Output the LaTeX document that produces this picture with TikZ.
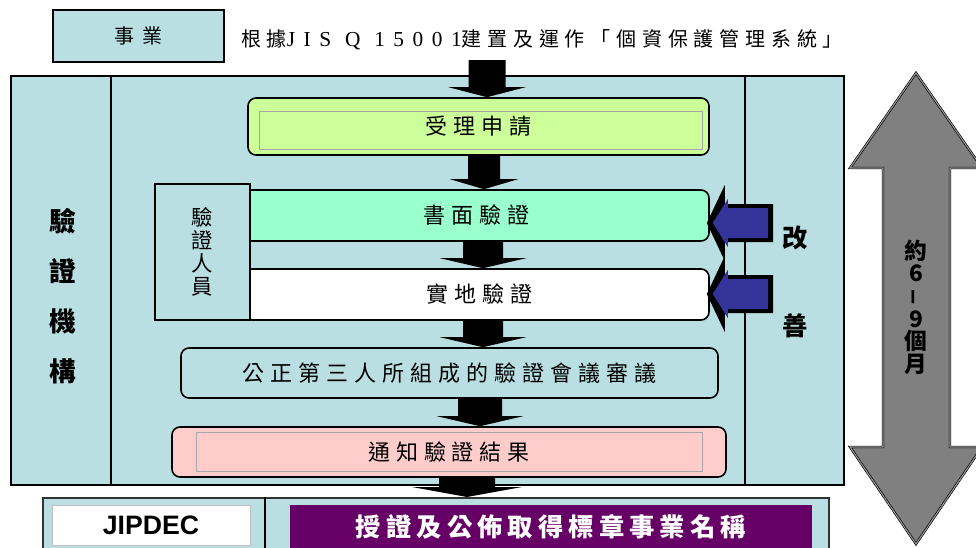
\documentclass[tikz,border=0pt]{standalone}
\usepackage{fontspec}
\usetikzlibrary{calc}
\newfontfamily\cjk{Noto Sans CJK TC}
\newfontfamily\latinspaced[LetterSpace=40]{Liberation Serif}
\newfontfamily\labelsans{Liberation Sans}

\definecolor{orgblue}{HTML}{B9DFE3}
\definecolor{reqgreen}{HTML}{CCFF99}
\definecolor{docmint}{HTML}{99FFCC}
\definecolor{notepink}{HTML}{FFCCCC}
\definecolor{markpurple}{HTML}{660066}
\definecolor{fixblue}{HTML}{333399}
\definecolor{spangray}{HTML}{808080}

% black block arrow: x, from node, to node, shaft half width, head half width
\newcommand\blkarrow[5]{%
  \path (#2 -| #1,0) coordinate (bt) (#3 -| #1,0) coordinate (bh);
  \fill[black] ($(bt)+(-#4,0)$) -- ($(bh)+(-#4,-10)$) -- ($(bh)+(-#5,-10)$) -- (bh)
    -- ($(bh)+(#5,-10)$) -- ($(bh)+(#4,-10)$) -- ($(bt)+(#4,0)$) -- cycle;}
% blue improvement arrow: tail coordinate, target node
\newcommand\fixarrow[2]{%
  \path ($(#2.east |- #1)+(-3,0)$) coordinate (fh);
  \fill[black] (fh) -- ($(fh)+(18,-38)$) -- ($(fh)+(18,-19)$) -- ($(#1)+(3,-19)$)
    -- ($(#1)+(3,19)$) -- ($(fh)+(18,19)$) -- ($(fh)+(18,38)$) -- cycle;
  \fill[fixblue] ($(fh)+(6,0)$) -- ($(fh)+(21,-24)$) -- ($(fh)+(21,-15)$) -- ($(#1)+(-2,-15)$)
    -- ($(#1)+(-2,15)$) -- ($(fh)+(21,15)$) -- ($(fh)+(21,24)$) -- cycle;}

\begin{document}
\begin{tikzpicture}[x=0.75pt,y=-0.75pt,
  plainbox/.style={draw=black, line width=1.2pt, inner sep=0pt},
  steptext/.style={font=\cjk\fontsize{16.5pt}{18pt}\selectfont\addfontfeature{LetterSpace=27}},
  stepbox/.style={draw=black, line width=1.2pt, rounded corners=6pt, inner sep=0pt, steptext},
  bevel/.style={draw=black!35, line width=0.5pt},
  sidetext/.style={align=center, font=\cjk\bfseries\fontsize{20pt}{37.5pt}\selectfont}]
  \useasboundingbox (0,0) rectangle (976,547);

  \node[plainbox, fill=orgblue, minimum width=128.25pt, minimum height=39pt,
    font=\cjk\fontsize{15pt}{16pt}\selectfont\addfontfeature{LetterSpace=40}] (F) at (138.5,36) {事業};
  \node[font=\cjk\fontsize{15pt}{16pt}\selectfont\addfontfeature{LetterSpace=29}] (T) at (542,40)
    {根據{\latinspaced\fontsize{16pt}{16pt}\selectfont JIS\ Q\ 15001}建置及運作「個資保護管理系統」};
  \coordinate (src) at (487,60);

  \node[plainbox, line width=1.5pt, fill=orgblue, minimum width=624.75pt, minimum height=306.75pt] (V) at (427.5,280.5) {};
  \draw[line width=0.8pt] ($(V.north west)+(101,0)$) -- ($(V.south west)+(101,0)$);
  \draw[line width=0.8pt] ($(V.north east)+(-100,0)$) -- ($(V.south east)+(-100,0)$);
  \node[sidetext] (L) at (63,296) {驗\\證\\機\\構};
  \node[sidetext, font=\cjk\bfseries\fontsize{19pt}{66pt}\selectfont] (R) at (795,282) {改\\善};

  \node[stepbox, fill=reqgreen, minimum width=345.75pt, minimum height=42.75pt] (S1) at (478.5,126.5) {受理申請};
  \draw[bevel] ($(S1.north west)+(12,14)$) rectangle ($(S1.south east)+(-7,-6)$);
  \node[stepbox, fill=docmint, minimum width=348.75pt, minimum height=38.25pt] (S2) at (476.5,215.5) {書面驗證};
  \node[stepbox, fill=white, minimum width=348.75pt, minimum height=38.25pt] (S3) at (476.5,294.5) {\hspace*{5pt}實地驗證};
  \node[plainbox, line width=1.6pt, fill=orgblue, minimum width=71.25pt, minimum height=102pt, align=center,
    font=\cjk\fontsize{16pt}{17.25pt}\selectfont] (P) at (202.5,252) {驗\\證\\人\\員};
  \node[stepbox, fill=orgblue, minimum width=402.75pt, minimum height=37.5pt] (S4) at (449.5,373) {公正第三人所組成的驗證會議審議};
  \node[stepbox, fill=notepink, minimum width=415.5pt, minimum height=37.5pt] (S5) at (449,452) {通知驗證結果};
  \draw[bevel] ($(S5.north west)+(25,6)$) rectangle ($(S5.south east)+(-24,-6)$);

  \node[plainbox, draw=black!80, line width=1.5pt, fill=orgblue, minimum width=589.5pt, minimum height=46.5pt] (B) at (436,529) {};
  \draw[line width=1pt] ($(B.north west)+(223,0)$) -- ($(B.south west)+(223,0)$);
  \node[draw=black!25, fill=white, minimum width=148.5pt, minimum height=30pt,
    font=\labelsans\bfseries\fontsize{20pt}{22pt}\selectfont] (J) at (151,525) {JIPDEC};
  \node[fill=markpurple, text=white, minimum width=391.5pt, minimum height=33pt,
    font=\cjk\bfseries\fontsize{19pt}{20pt}\selectfont\addfontfeature{LetterSpace=20}] (M) at (551,527) {授證及公佈取得標章事業名稱};

  \blkarrow{487}{src}{S1.north}{18.5}{38.5}
  \blkarrow{484}{S1.south}{S2.north}{16}{34}
  \blkarrow{483}{S2.south}{S3.north}{20}{43}
  \blkarrow{483}{S3.south}{S4.north}{20}{43}
  \blkarrow{480}{S4.south}{S5.north}{22}{43}
  \blkarrow{467}{S5.south}{B.north}{28}{55}

  \coordinate (I1) at (770,223);
  \coordinate (I2) at (770,294);
  \fixarrow{I1}{S2}
  \fixarrow{I2}{S3}

  \filldraw[fill=spangray, draw=black, line width=0.5pt, double=black!40, double distance=0.8pt]
    (916,73) -- (982,168) -- (950,168) -- (950,447) -- (982,447) -- (916,544)
    -- (850,447) -- (883,447) -- (883,168) -- (850,168) -- cycle;
  \node[align=center, font=\cjk\bfseries\fontsize{17pt}{17pt}\selectfont] (D) at (916,307)
    {約\\6\\\rotatebox{90}{\labelsans\fontsize{20pt}{20pt}\selectfont–}\\9\\個\\月};
\end{tikzpicture}
\end{document}
